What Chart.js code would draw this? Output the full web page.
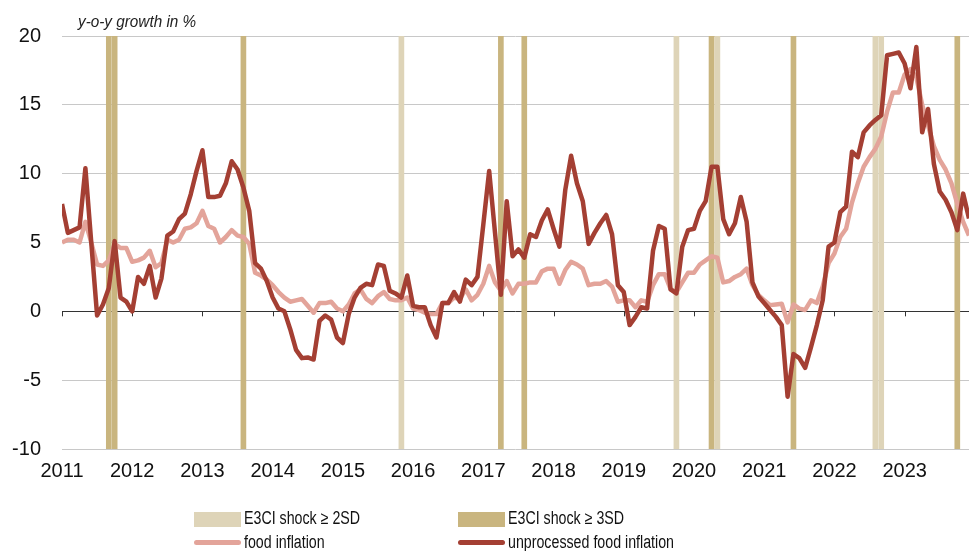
<!DOCTYPE html>
<html>
<head>
<meta charset="utf-8">
<script src="https://cdn.jsdelivr.net/npm/chart.js@4.4.1/dist/chart.umd.min.js"></script>
<style>
  html, body { margin: 0; padding: 0; background: #fff; }
  #wrap { position: relative; width: 969px; height: 551px; overflow: hidden; }
  #chart { position: absolute; left: 0; top: 0; }
  #title {
    position: absolute; left: 78px; top: 12px; transform: scaleX(0.9); transform-origin: left top;
    font: italic 17px "Liberation Sans", Arial, sans-serif; color: #222; white-space: nowrap;
  }
  .lg {
    position: absolute; font: 18px "Liberation Sans", Arial, sans-serif; color: #111;
    white-space: nowrap; transform: scaleX(0.79); transform-origin: left top;
  }
  .sw { position: absolute; }
</style>
</head>
<body>
<div id="wrap">
  <canvas id="chart" width="969" height="551"></canvas>
  <div id="title">y-o-y growth in %</div>
  <div class="sw" style="left:194px;top:512px;width:47px;height:15px;background:#ded4b8"></div>
  <div class="lg" style="left:244px;top:508px">E3CI shock ≥ 2SD</div>
  <div class="sw" style="left:458px;top:512px;width:47px;height:15px;background:#c9b57f"></div>
  <div class="lg" style="left:508px;top:508px">E3CI shock ≥ 3SD</div>
  <div class="sw" style="left:194px;top:540px;width:47px;height:5px;border-radius:3px;background:#e3a49a"></div>
  <div class="lg" style="left:244px;top:532px">food inflation</div>
  <div class="sw" style="left:458px;top:540px;width:47px;height:5px;border-radius:3px;background:#a43f33"></div>
  <div class="lg" style="left:508px;top:532px">unprocessed food inflation</div>
</div>
<script>
/* monthly data, Jan 2011 .. Dec 2023, y-o-y growth in % */
const yearLabels = ["2011","2012","2013","2014","2015","2016","2017","2018","2019","2020","2021","2022","2023"];

const foodInflation = [
  5.0, 5.2, 5.2, 5.0, 6.5, 5.0, 3.4, 3.3, 3.7, 4.9, 4.6, 4.6,
  3.6, 3.7, 3.9, 4.4, 3.2, 3.5, 5.2, 5.0, 5.2, 6.0, 6.1, 6.4,
  7.3, 6.2, 6.0, 5.0, 5.4, 5.9, 5.5, 5.4, 4.9, 2.8, 2.6, 2.3,
  1.9, 1.4, 1.0, 0.7, 0.8, 0.9, 0.4, -0.1, 0.6, 0.6, 0.7, 0.2,
  0.0, 0.5, 1.3, 1.6, 0.9, 0.6, 1.1, 1.4, 0.9, 0.8, 0.8, 1.0,
  0.2, 0.1, -0.1, -0.2, -0.2, 0.6, 0.6, 1.0, 0.9, 1.6, 0.8, 1.2,
  2.0, 3.3, 2.1, 1.5, 2.2, 1.3, 2.0, 2.0, 2.1, 2.1, 2.9, 3.1,
  3.1, 2.0, 3.0, 3.6, 3.4, 3.1, 1.9, 2.0, 2.0, 2.2, 1.8, 0.7,
  0.8, 0.8, 0.3, 0.8, 0.7, 1.9, 2.7, 2.7, 1.6, 1.4, 2.1, 2.8,
  2.8, 3.4, 3.7, 4.0, 3.9, 2.1, 2.2, 2.5, 2.7, 3.1, 1.9, 1.2,
  0.8, 0.45, 0.5, 0.55, -0.8, 0.5, 0.2, 0.1, 0.8, 0.6, 1.8, 3.5,
  4.2, 5.4, 6.0, 7.9, 9.3, 10.5, 11.2, 11.8, 12.7, 14.5, 15.9, 15.9,
  17.2, 17.6, 17.0, 15.0, 13.5, 12.0, 11.0, 10.3, 9.3, 7.8, 6.5, 5.5
];

const unprocessedFood = [
  7.8, 5.7, 5.9, 6.1, 10.4, 5.0, -0.3, 0.5, 1.7, 5.1, 1.0, 0.7,
  0.0, 2.5, 2.0, 3.3, 1.0, 2.4, 5.5, 5.8, 6.7, 7.1, 8.5, 10.2,
  11.7, 8.3, 8.3, 8.4, 9.3, 10.9, 10.3, 9.0, 7.3, 3.5, 3.1, 2.2,
  1.0, 0.2, 0.0, -1.3, -2.8, -3.4, -3.35, -3.5, -0.7, -0.3, -0.6, -1.9,
  -2.3, -0.2, 1.0, 1.7, 2.0, 1.9, 3.4, 3.3, 1.5, 1.3, 1.0, 2.6,
  0.4, 0.3, 0.3, -1.0, -1.9, 0.6, 0.6, 1.4, 0.7, 2.3, 1.9, 2.5,
  6.3, 10.2, 5.7, 1.2, 8.0, 4.0, 4.5, 3.9, 5.6, 5.4, 6.6, 7.4,
  6.0, 4.7, 8.8, 11.3, 9.3, 8.0, 4.9, 5.7, 6.4, 7.0, 5.6, 1.9,
  1.4, -1.0, -0.4, 0.3, 0.2, 4.4, 6.2, 6.0, 1.6, 1.3, 4.7, 5.9,
  6.0, 7.3, 8.0, 10.5, 10.5, 6.7, 5.6, 6.4, 8.3, 6.5, 2.1, 1.1,
  0.6, 0.1, -0.4, -1.0, -6.2, -3.1, -3.4, -4.1, -2.6, -1.0, 0.8, 4.7,
  5.0, 7.2, 7.6, 11.6, 11.2, 13.0, 13.5, 13.9, 14.25, 18.6, 18.7, 18.8,
  18.0, 16.2, 19.2, 13.0, 14.7, 10.7, 8.7, 8.1, 7.2, 5.9, 8.55, 6.75
];

// months (index from Jan 2011) with an E3CI shock
const shock2SD = [58, 105, 112, 139, 140];
const shock3SD = [8, 9, 31, 75, 79, 111, 125, 153];

const Y_MIN = -10, Y_MAX = 20;
const FONT = '"Liberation Sans", Arial, sans-serif';

const toPoints = arr => arr.map((v, i) => ({ x: i, y: v }));
const toBands  = arr => arr.map(m => ({ x: m, y: [Y_MIN, Y_MAX] }));

// zero line tick marks at every year
const yearTicks = {
  id: "yearTicks",
  beforeDatasetsDraw(chart) {
    const { ctx, scales: { x, y } } = chart;
    const y0 = y.getPixelForValue(0);
    ctx.save();
    ctx.strokeStyle = "#333";
    ctx.lineWidth = 1;
    yearLabels.forEach((_, k) => {
      const px = Math.round(x.getPixelForValue(k * 12)) + 0.5;
      ctx.beginPath();
      ctx.moveTo(px, y0);
      ctx.lineTo(px, y0 + 5);
      ctx.stroke();
    });
    ctx.restore();
  }
};

new Chart(document.getElementById("chart"), {
  type: "line",
  data: {
    datasets: [
      {
        type: "line", label: "unprocessed food inflation", data: toPoints(unprocessedFood),
        borderColor: "#a43f33", borderWidth: 4.5, pointRadius: 0, tension: 0,
        borderJoinStyle: "round", order: 1
      },
      {
        type: "line", label: "food inflation", data: toPoints(foodInflation),
        borderColor: "#e3a49a", borderWidth: 4.5, pointRadius: 0, tension: 0,
        borderJoinStyle: "round", order: 2
      },
      {
        type: "bar", label: "E3CI shock ≥ 3SD", data: toBands(shock3SD),
        backgroundColor: "#c9b57f", barThickness: 5, grouped: false, order: 3
      },
      {
        type: "bar", label: "E3CI shock ≥ 2SD", data: toBands(shock2SD),
        backgroundColor: "#ded4b8", barThickness: 5, grouped: false, order: 4
      }
    ]
  },
  options: {
    responsive: false,
    animation: false,
    layout: { padding: { left: 0, right: 0, top: 36, bottom: 62 } },
    plugins: { legend: { display: false }, tooltip: { enabled: false } },
    scales: {
      x: {
        type: "linear",
        min: 0,
        max: unprocessedFood.length - 1,
        offset: false,
        grid: { display: false, drawTicks: false },
        border: { display: false },
        afterBuildTicks: axis => { axis.ticks = yearLabels.map((_, k) => ({ value: k * 12 })); },
        afterFit: axis => { axis.height = 40; },
        ticks: {
          autoSkip: false, maxRotation: 0, padding: 10,
          font: { family: FONT, size: 20 }, color: "#111",
          callback: v => yearLabels[v / 12]
        }
      },
      y: {
        min: Y_MIN,
        max: Y_MAX,
        border: { display: false },
        grid: {
          drawTicks: false,
          color: c => (c.tick && c.tick.value === 0 ? "#333" : "#c8c8c8"),
          lineWidth: 1
        },
        afterFit: axis => { axis.width = 62; },
        ticks: {
          stepSize: 5, padding: 21,
          font: { family: FONT, size: 20 }, color: "#111"
        }
      }
    }
  },
  plugins: [yearTicks]
});
</script>
</body>
</html>
